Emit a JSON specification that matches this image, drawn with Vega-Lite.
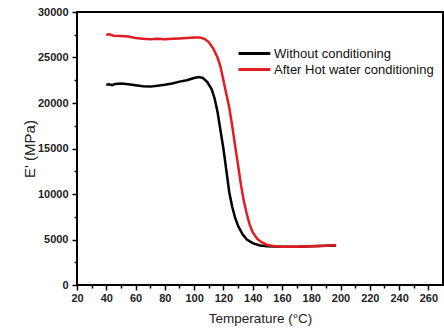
{
  "$schema": "https://vega.github.io/schema/vega-lite/v6.json",
  "width": 366,
  "height": 273,
  "autosize": {"type": "none"},
  "padding": {"left": 77, "top": 12, "right": 1, "bottom": 48},
  "background": "white",
  "config": {
    "view": {"stroke": "black", "strokeWidth": 2},
    "font": "Liberation Sans",
    "axis": {
      "domain": false,
      "ticks": true,
      "tickColor": "black",
      "tickWidth": 1.5,
      "grid": false,
      "labelFont": "Liberation Sans",
      "labelFontWeight": "bold",
      "labelFontSize": 11,
      "labelColor": "#222",
      "titleFont": "Liberation Sans",
      "titleFontWeight": "normal",
      "titleFontSize": 13.5,
      "titleColor": "#222"
    }
  },
  "data": {"values": [
    {"T": 40, "E": 22000, "s": "Without conditioning"},
    {"T": 42, "E": 22050, "s": "Without conditioning"},
    {"T": 44, "E": 21950, "s": "Without conditioning"},
    {"T": 46, "E": 22100, "s": "Without conditioning"},
    {"T": 50, "E": 22150, "s": "Without conditioning"},
    {"T": 55, "E": 22050, "s": "Without conditioning"},
    {"T": 60, "E": 21950, "s": "Without conditioning"},
    {"T": 65, "E": 21850, "s": "Without conditioning"},
    {"T": 70, "E": 21800, "s": "Without conditioning"},
    {"T": 75, "E": 21900, "s": "Without conditioning"},
    {"T": 80, "E": 22000, "s": "Without conditioning"},
    {"T": 85, "E": 22150, "s": "Without conditioning"},
    {"T": 90, "E": 22350, "s": "Without conditioning"},
    {"T": 95, "E": 22500, "s": "Without conditioning"},
    {"T": 100, "E": 22750, "s": "Without conditioning"},
    {"T": 103, "E": 22850, "s": "Without conditioning"},
    {"T": 106, "E": 22750, "s": "Without conditioning"},
    {"T": 109, "E": 22300, "s": "Without conditioning"},
    {"T": 112, "E": 21500, "s": "Without conditioning"},
    {"T": 114, "E": 20500, "s": "Without conditioning"},
    {"T": 116, "E": 19000, "s": "Without conditioning"},
    {"T": 118, "E": 17000, "s": "Without conditioning"},
    {"T": 120, "E": 15000, "s": "Without conditioning"},
    {"T": 122, "E": 12600, "s": "Without conditioning"},
    {"T": 124, "E": 10200, "s": "Without conditioning"},
    {"T": 126, "E": 8600, "s": "Without conditioning"},
    {"T": 128, "E": 7400, "s": "Without conditioning"},
    {"T": 130, "E": 6500, "s": "Without conditioning"},
    {"T": 133, "E": 5600, "s": "Without conditioning"},
    {"T": 136, "E": 5000, "s": "Without conditioning"},
    {"T": 140, "E": 4600, "s": "Without conditioning"},
    {"T": 145, "E": 4350, "s": "Without conditioning"},
    {"T": 150, "E": 4250, "s": "Without conditioning"},
    {"T": 160, "E": 4200, "s": "Without conditioning"},
    {"T": 170, "E": 4200, "s": "Without conditioning"},
    {"T": 180, "E": 4250, "s": "Without conditioning"},
    {"T": 190, "E": 4300, "s": "Without conditioning"},
    {"T": 197, "E": 4350, "s": "Without conditioning"},
    {"T": 40, "E": 27500, "s": "After Hot water conditioning"},
    {"T": 42, "E": 27550, "s": "After Hot water conditioning"},
    {"T": 45, "E": 27400, "s": "After Hot water conditioning"},
    {"T": 50, "E": 27350, "s": "After Hot water conditioning"},
    {"T": 55, "E": 27300, "s": "After Hot water conditioning"},
    {"T": 60, "E": 27150, "s": "After Hot water conditioning"},
    {"T": 65, "E": 27050, "s": "After Hot water conditioning"},
    {"T": 70, "E": 27000, "s": "After Hot water conditioning"},
    {"T": 75, "E": 27050, "s": "After Hot water conditioning"},
    {"T": 80, "E": 27000, "s": "After Hot water conditioning"},
    {"T": 85, "E": 27050, "s": "After Hot water conditioning"},
    {"T": 90, "E": 27100, "s": "After Hot water conditioning"},
    {"T": 95, "E": 27150, "s": "After Hot water conditioning"},
    {"T": 100, "E": 27200, "s": "After Hot water conditioning"},
    {"T": 104, "E": 27200, "s": "After Hot water conditioning"},
    {"T": 107, "E": 27050, "s": "After Hot water conditioning"},
    {"T": 110, "E": 26700, "s": "After Hot water conditioning"},
    {"T": 113, "E": 26000, "s": "After Hot water conditioning"},
    {"T": 116, "E": 25000, "s": "After Hot water conditioning"},
    {"T": 118, "E": 24000, "s": "After Hot water conditioning"},
    {"T": 120, "E": 22500, "s": "After Hot water conditioning"},
    {"T": 122, "E": 21000, "s": "After Hot water conditioning"},
    {"T": 124, "E": 19500, "s": "After Hot water conditioning"},
    {"T": 126, "E": 17500, "s": "After Hot water conditioning"},
    {"T": 128, "E": 15300, "s": "After Hot water conditioning"},
    {"T": 130, "E": 13200, "s": "After Hot water conditioning"},
    {"T": 132, "E": 11000, "s": "After Hot water conditioning"},
    {"T": 134, "E": 9200, "s": "After Hot water conditioning"},
    {"T": 136, "E": 7800, "s": "After Hot water conditioning"},
    {"T": 138, "E": 6600, "s": "After Hot water conditioning"},
    {"T": 140, "E": 5800, "s": "After Hot water conditioning"},
    {"T": 143, "E": 5100, "s": "After Hot water conditioning"},
    {"T": 146, "E": 4700, "s": "After Hot water conditioning"},
    {"T": 150, "E": 4400, "s": "After Hot water conditioning"},
    {"T": 155, "E": 4250, "s": "After Hot water conditioning"},
    {"T": 160, "E": 4200, "s": "After Hot water conditioning"},
    {"T": 170, "E": 4200, "s": "After Hot water conditioning"},
    {"T": 180, "E": 4250, "s": "After Hot water conditioning"},
    {"T": 190, "E": 4300, "s": "After Hot water conditioning"},
    {"T": 197, "E": 4400, "s": "After Hot water conditioning"}
  ]},
  "layer": [
    {
      "mark": {"type": "line", "strokeWidth": 2.5},
      "encoding": {
        "x": {
          "field": "T", "type": "quantitative",
          "scale": {"domain": [20, 270], "nice": false, "zero": false},
          "axis": {
            "title": "Temperature (°C)",
            "values": [20,40,60,80,100,120,140,160,180,200,220,240,260],
            "tickSize": 5,
            "labelPadding": 2,
            "labelFlush": false,
            "titlePadding": 8
          }
        },
        "y": {
          "field": "E", "type": "quantitative",
          "scale": {"domain": [0, 30000], "nice": false},
          "axis": {
            "title": "E' (MPa)",
            "values": [0,5000,10000,15000,20000,25000,30000],
            "format": "d",
            "tickSize": 5,
            "labelPadding": 4,
            "labelFlush": false,
            "titlePadding": 0,
            "titleFontSize": 15
          }
        },
        "color": {
          "field": "s", "type": "nominal",
          "scale": {"domain": ["Without conditioning", "After Hot water conditioning"], "range": ["#000000", "#e31b23"]},
          "legend": {
            "title": null,
            "orient": "none",
            "legendX": 160,
            "legendY": 34,
            "symbolType": "M-1,0H4.3",
            "symbolSize": 144,
            "symbolStrokeWidth": 3,
            "labelFontSize": 13,
            "labelFont": "Liberation Sans",
            "labelColor": "#111",
            "labelOffset": 22,
            "rowPadding": 1,
            "labelLimit": 300
          }
        }
      }
    },
    {
      "mark": {"type": "point", "opacity": 0},
      "encoding": {
        "x": {
          "field": "T", "type": "quantitative",
          "scale": {"domain": [20, 270], "nice": false, "zero": false},
          "axis": {
            "orient": "bottom", "title": null, "labels": false,
            "values": [30,50,70,90,110,130,150,170,190,210,230,250],
            "tickSize": 3
          }
        },
        "y": {
          "field": "E", "type": "quantitative",
          "scale": {"domain": [0, 30000], "nice": false},
          "axis": {
            "orient": "left", "title": null, "labels": false,
            "values": [2500,7500,12500,17500,22500,27500],
            "tickSize": 3
          }
        }
      }
    }
  ],
  "resolve": {"axis": {"x": "independent", "y": "independent"}}
}
